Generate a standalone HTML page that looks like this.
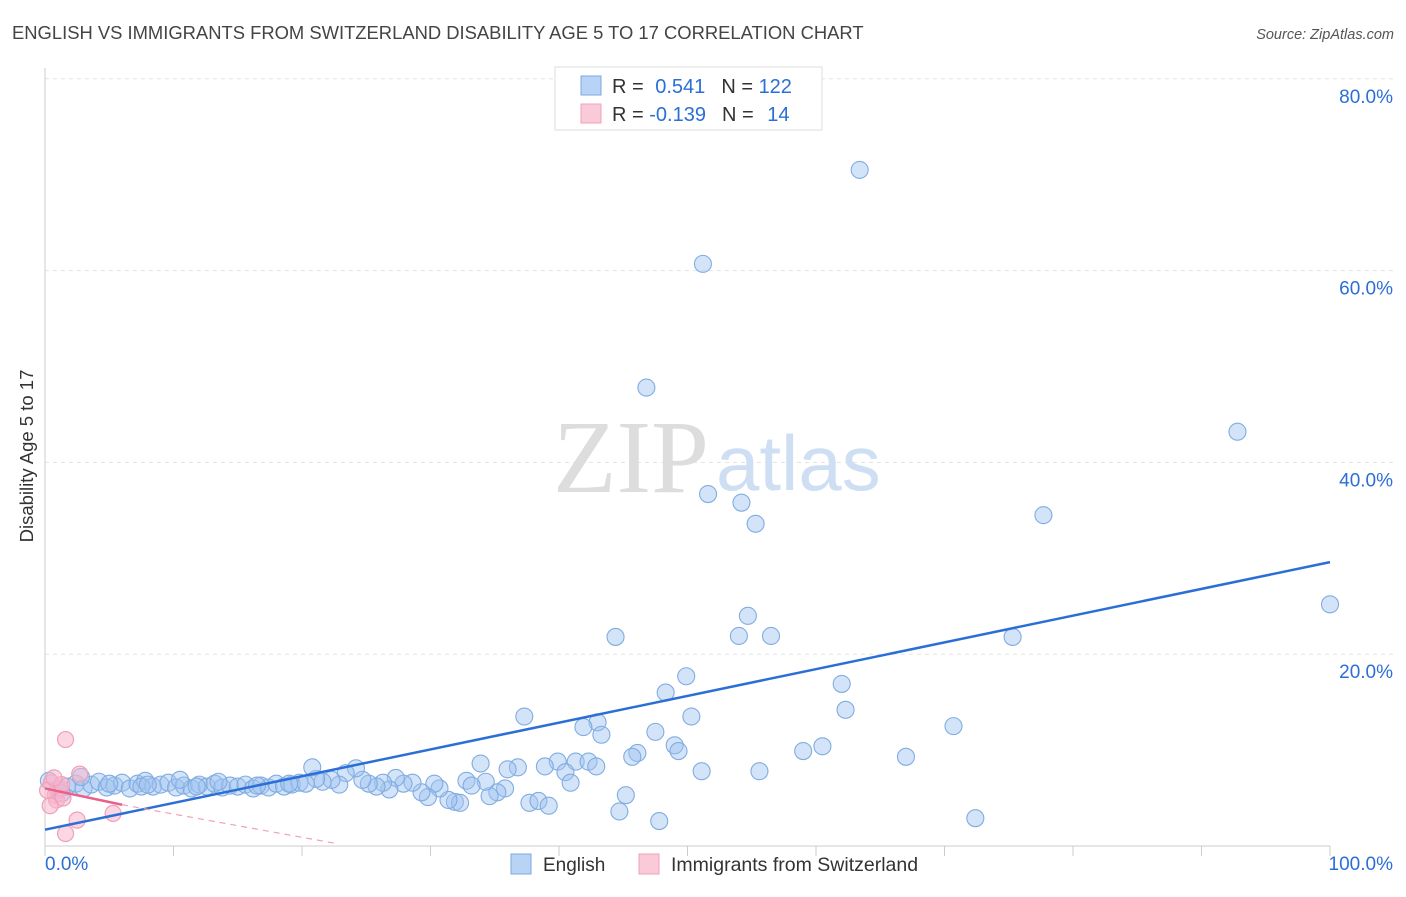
<!DOCTYPE html>
<html><head><meta charset="utf-8"><style>
body{margin:0;background:#fff;font-family:"Liberation Sans",sans-serif;}
</style></head><body>
<svg width="1406" height="892" xmlns="http://www.w3.org/2000/svg" id="svg">
<text x="12" y="39" font-size="18.4" fill="#444">ENGLISH VS IMMIGRANTS FROM SWITZERLAND DISABILITY AGE 5 TO 17 CORRELATION CHART</text>
<text x="1394" y="39" font-size="14.5" fill="#555" font-style="italic" text-anchor="end">Source: ZipAtlas.com</text>
<text transform="translate(33,456) rotate(-90)" font-size="18.5" fill="#333" text-anchor="middle">Disability Age 5 to 17</text>
<g id="grid"></g>
<g>
<text x="553" y="492" font-size="104" fill="#ddd" font-family="Liberation Serif,serif">ZIP</text>
<text x="716" y="490" font-size="78" fill="#cfdff3">atlas</text>
</g>
<g id="pts"></g>
<g id="lines"></g>
<g>
<rect x="555" y="67" width="267" height="63" fill="#fff" stroke="#ddd"/>
<rect x="581" y="76" width="20" height="19" fill="#b8d3f5" stroke="#7aa8e0"/>
<rect x="581" y="104" width="20" height="19" fill="#fbcad8" stroke="#f0a0b8"/>
<text x="612" y="93" font-size="20" fill="#333">R = <tspan fill="#2b6fd6" dx="6">0.541</tspan><tspan dx="16">N = </tspan><tspan fill="#2b6fd6">122</tspan></text>
<text x="612" y="121" font-size="20" fill="#333">R = <tspan fill="#2b6fd6">-0.139</tspan><tspan dx="16">N = </tspan><tspan fill="#2b6fd6" dx="8">14</tspan></text>
</g>
<g>
<rect x="511" y="854" width="20" height="20" fill="#b8d3f5" stroke="#7aa8e0"/>
<text x="543" y="871" font-size="19" fill="#333">English</text>
<rect x="639" y="854" width="20" height="20" fill="#fbcad8" stroke="#f0a0b8"/>
<text x="671" y="871" font-size="19.5" fill="#333">Immigrants from Switzerland</text>
</g>
</svg>
<script>
const yTicks=[20,40,60,80];
const xTickLabels=["0.0%","100.0%"];
const englishX=[63.4,51.2,46.8,92.8,51.6,54.2,55.3,77.7,100,54.7,44.4,54.0,56.5,75.3,49.9,48.3,62.0,62.3,37.3,50.3,70.7,43.0,41.9,43.3,47.5,49.0,49.3,46.1,45.7,59.0,60.5,67.0,51.1,55.6,39.9,38.9,41.3,42.3,42.9,40.5,36.8,36.0,33.9,40.9,45.2,44.7,47.8,72.4,37.7,38.4,39.2,35.8,35.2,34.6,34.3,32.8,33.2,31.9,32.3,31.4,30.7,30.3,29.8,29.3,28.6,27.9,27.3,26.8,26.3,25.8,25.2,24.7,24.2,23.4,22.9,22.3,21.6,21.1,20.8,
0.3,1.0,1.7,2.4,3.0,3.6,4.2,4.8,5.4,6.0,6.6,7.2,7.8,8.4,9.0,9.6,10.2,10.8,11.4,12.0,12.6,13.2,13.8,14.4,15.0,15.6,16.2,16.8,17.4,18.0,18.6,19.2,19.8,20.3,2.8,5.0,7.5,10.5,13.5,16.5,19.0,1.3,8.0,11.8];
const englishY=[70.5,60.7,47.8,43.2,36.7,35.8,33.6,34.5,25.2,24.0,21.8,21.9,21.9,21.8,17.7,16.0,16.9,14.2,13.5,13.5,12.5,12.9,12.4,11.6,11.9,10.5,9.9,9.7,9.3,9.9,10.4,9.3,7.8,7.8,8.8,8.3,8.8,8.8,8.3,7.7,8.2,8.0,8.6,6.6,5.3,3.6,2.6,2.9,4.5,4.7,4.2,6.0,5.6,5.2,6.7,6.8,6.3,4.6,4.5,4.8,6.0,6.5,5.1,5.6,6.6,6.5,7.1,5.9,6.6,6.2,6.5,6.9,8.1,7.6,6.4,6.9,6.7,7.0,8.2,
6.8,5.9,6.2,6.5,6.0,6.4,6.7,6.1,6.3,6.6,6.0,6.5,6.8,6.2,6.4,6.6,6.1,6.3,6.0,6.4,6.2,6.5,6.1,6.3,6.2,6.4,6.0,6.3,6.1,6.5,6.2,6.4,6.6,6.5,7.2,6.5,6.2,6.9,6.7,6.3,6.5,5.5,6.4,6.2];
const swissX=[0.5,0.8,0.9,1.2,1.4,1.6,2.7,2.5,1.6,5.3,0.4,0.2,1.3,0.7];
const swissY=[6.6,5.3,4.8,6.0,5.0,11.1,7.5,2.7,1.3,3.4,4.2,5.8,6.4,7.1];
const engLine=[[0,1.7],[100,29.6]];
const swLine=[[0,6.0],[6,4.3]];
const swDash=[[6,4.3],[22.5,0.3]];
const X=v=>45+v*12.85, Y=v=>846-v*9.59;
const NS="http://www.w3.org/2000/svg";
function mk(t,a,p){const e=document.createElementNS(NS,t);for(const k in a)e.setAttribute(k,a[k]);p.appendChild(e);return e;}
const svg=document.getElementById('svg'),grid=document.getElementById('grid'),pts=document.getElementById('pts'),lines=document.getElementById('lines');
yTicks.forEach(t=>{const l=mk('line',{x1:45,x2:1394,y1:Y(t),y2:Y(t),stroke:'#e3e3e3','stroke-dasharray':'4,4'},grid);


const tx=mk('text',{x:1393,y:Y(t)+24,'font-size':19,fill:'#2b6fd6','text-anchor':'end'},grid);tx.textContent=t.toFixed(1)+'%';

});
const ax=mk('line',{x1:45,x2:1330,y1:846,y2:846,stroke:'#ccc'},grid);


const ay=mk('line',{x1:45,x2:45,y1:68,y2:846,stroke:'#ccc'},grid);


for(let i=0;i<=10;i++){const t=mk('line',{x1:X(i*10),x2:X(i*10),y1:846,y2:856,stroke:'#ccc'},grid);

}
[[0,'start',45],[1,'end',1393]].forEach(([i,a,x])=>{const t=mk('text',{x:x,y:870,'font-size':19,fill:'#2b6fd6','text-anchor':a},grid);t.textContent=xTickLabels[i];

});
englishX.forEach((v,i)=>{const c=mk('circle',{cx:X(v),cy:Y(englishY[i]),r:8.5,fill:'rgba(160,195,240,0.45)',stroke:'#80ace2','stroke-width':1.1},pts);

});
swissX.forEach((v,i)=>{const c=mk('circle',{cx:X(v),cy:Y(swissY[i]),r:8,fill:'rgba(247,180,204,0.55)',stroke:'#f0a0b8','stroke-width':1.2},pts);

});
const l1=mk('line',{x1:X(engLine[0][0]),y1:Y(engLine[0][1]),x2:X(engLine[1][0]),y2:Y(engLine[1][1]),stroke:'#2b6fd6','stroke-width':2.5},lines);


const l2=mk('line',{x1:X(swLine[0][0]),y1:Y(swLine[0][1]),x2:X(swLine[1][0]),y2:Y(swLine[1][1]),stroke:'#e9608a','stroke-width':2.5},lines);


const l3=mk('line',{x1:X(swDash[0][0]),y1:Y(swDash[0][1]),x2:X(swDash[1][0]),y2:Y(swDash[1][1]),stroke:'#f0a0b8','stroke-width':1.2,'stroke-dasharray':'6,5'},lines);


</script>
</body></html>
